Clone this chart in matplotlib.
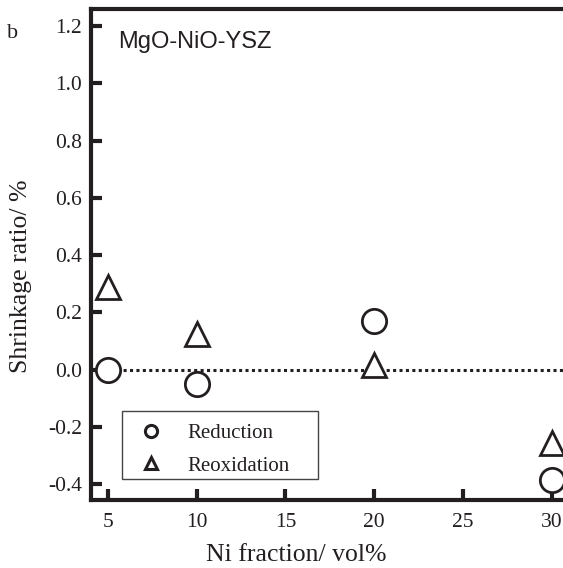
import matplotlib
matplotlib.use("Agg")
import matplotlib.pyplot as plt
from matplotlib.patches import Rectangle

ni_fraction = [5, 10, 20, 30]
reduction = [0.0, -0.05, 0.17, -0.386]
reoxidation = [0.29, 0.125, 0.015, -0.258]
xticks = [5, 10, 15, 20, 25, 30]
yticks = [-0.4, -0.2, 0.0, 0.2, 0.4, 0.6, 0.8, 1.0, 1.2]
ytick_labels = ["-0.4", "-0.2", "0.0", "0.2", "0.4", "0.6", "0.8", "1.0", "1.2"]

serif = ["Liberation Serif", "DejaVu Serif"]
sans = ["Liberation Sans", "DejaVu Sans"]
ink = "#231f20"

fig = plt.figure(figsize=(5.63, 5.68), dpi=100)
ax = fig.add_axes([0.1625, 0.1197, 0.8375, 0.8644])
ax.set_xlim(4.07, 30.64)
ax.set_ylim(-0.456, 1.26)

ax.axhline(0, color=ink, linestyle=(0, (1, 1.1)), linewidth=2.2, zorder=1)

ax.plot(ni_fraction, reduction, linestyle="none", marker="o", markersize=17.5,
        markerfacecolor="white", markeredgecolor=ink, markeredgewidth=2.0,
        label="Reduction", zorder=3, clip_on=False)
ax.plot(ni_fraction, reoxidation, linestyle="none", marker="^", markersize=17.5,
        markerfacecolor="white", markeredgecolor=ink, markeredgewidth=2.0,
        label="Reoxidation", zorder=3, clip_on=False)

for s in ["left", "bottom", "top"]:
    ax.spines[s].set_linewidth(3.0)
    ax.spines[s].set_color(ink)
ax.spines["right"].set_visible(False)

ax.set_xticks(xticks)
ax.set_xticklabels([str(t) for t in xticks], fontfamily=serif, fontsize=15.5, color=ink)
ax.set_yticks(yticks)
ax.set_yticklabels(ytick_labels, fontfamily=serif, fontsize=15.5, color=ink)
ax.tick_params(axis="both", direction="in", length=8, width=3, color=ink)
ax.tick_params(axis="y", pad=7)
ax.tick_params(axis="x", pad=9)

ax.set_xlabel("Ni fraction/ vol%", fontfamily=serif, fontsize=18.5, color=ink)
ax.set_ylabel("Shrinkage ratio/ %", fontfamily=serif, fontsize=18.5, color=ink)
ax.xaxis.set_label_coords(0.434, -0.089)
ax.yaxis.set_label_coords(-0.126, 0.456)

ax.text(0.056, 0.9206, "MgO-NiO-YSZ", transform=ax.transAxes, fontfamily=sans,
        fontsize=17, va="baseline", ha="left", color=ink)
fig.text(0.0124, 0.933, "b", fontfamily=serif, fontsize=16, va="baseline", ha="left", color=ink)

ax.add_patch(Rectangle((0.0647, 0.0428), 0.4157, 0.1385, transform=ax.transAxes,
                       facecolor="white", edgecolor="#444444", linewidth=1.0, zorder=4))

leg = ax.legend(loc="upper left", bbox_to_anchor=(0.1041, 0.155), frameon=False,
                markerscale=0.5, prop={"family": serif, "size": 15},
                handlelength=1.0, handletextpad=1.23, borderpad=0.0,
                borderaxespad=0.0, labelspacing=0.6)
leg.set_zorder(5)
for h in leg.legend_handles:
    h.set_markeredgewidth(2.2)
for t in leg.get_texts():
    t.set_color(ink)

fig.savefig("out.png", dpi=100)
